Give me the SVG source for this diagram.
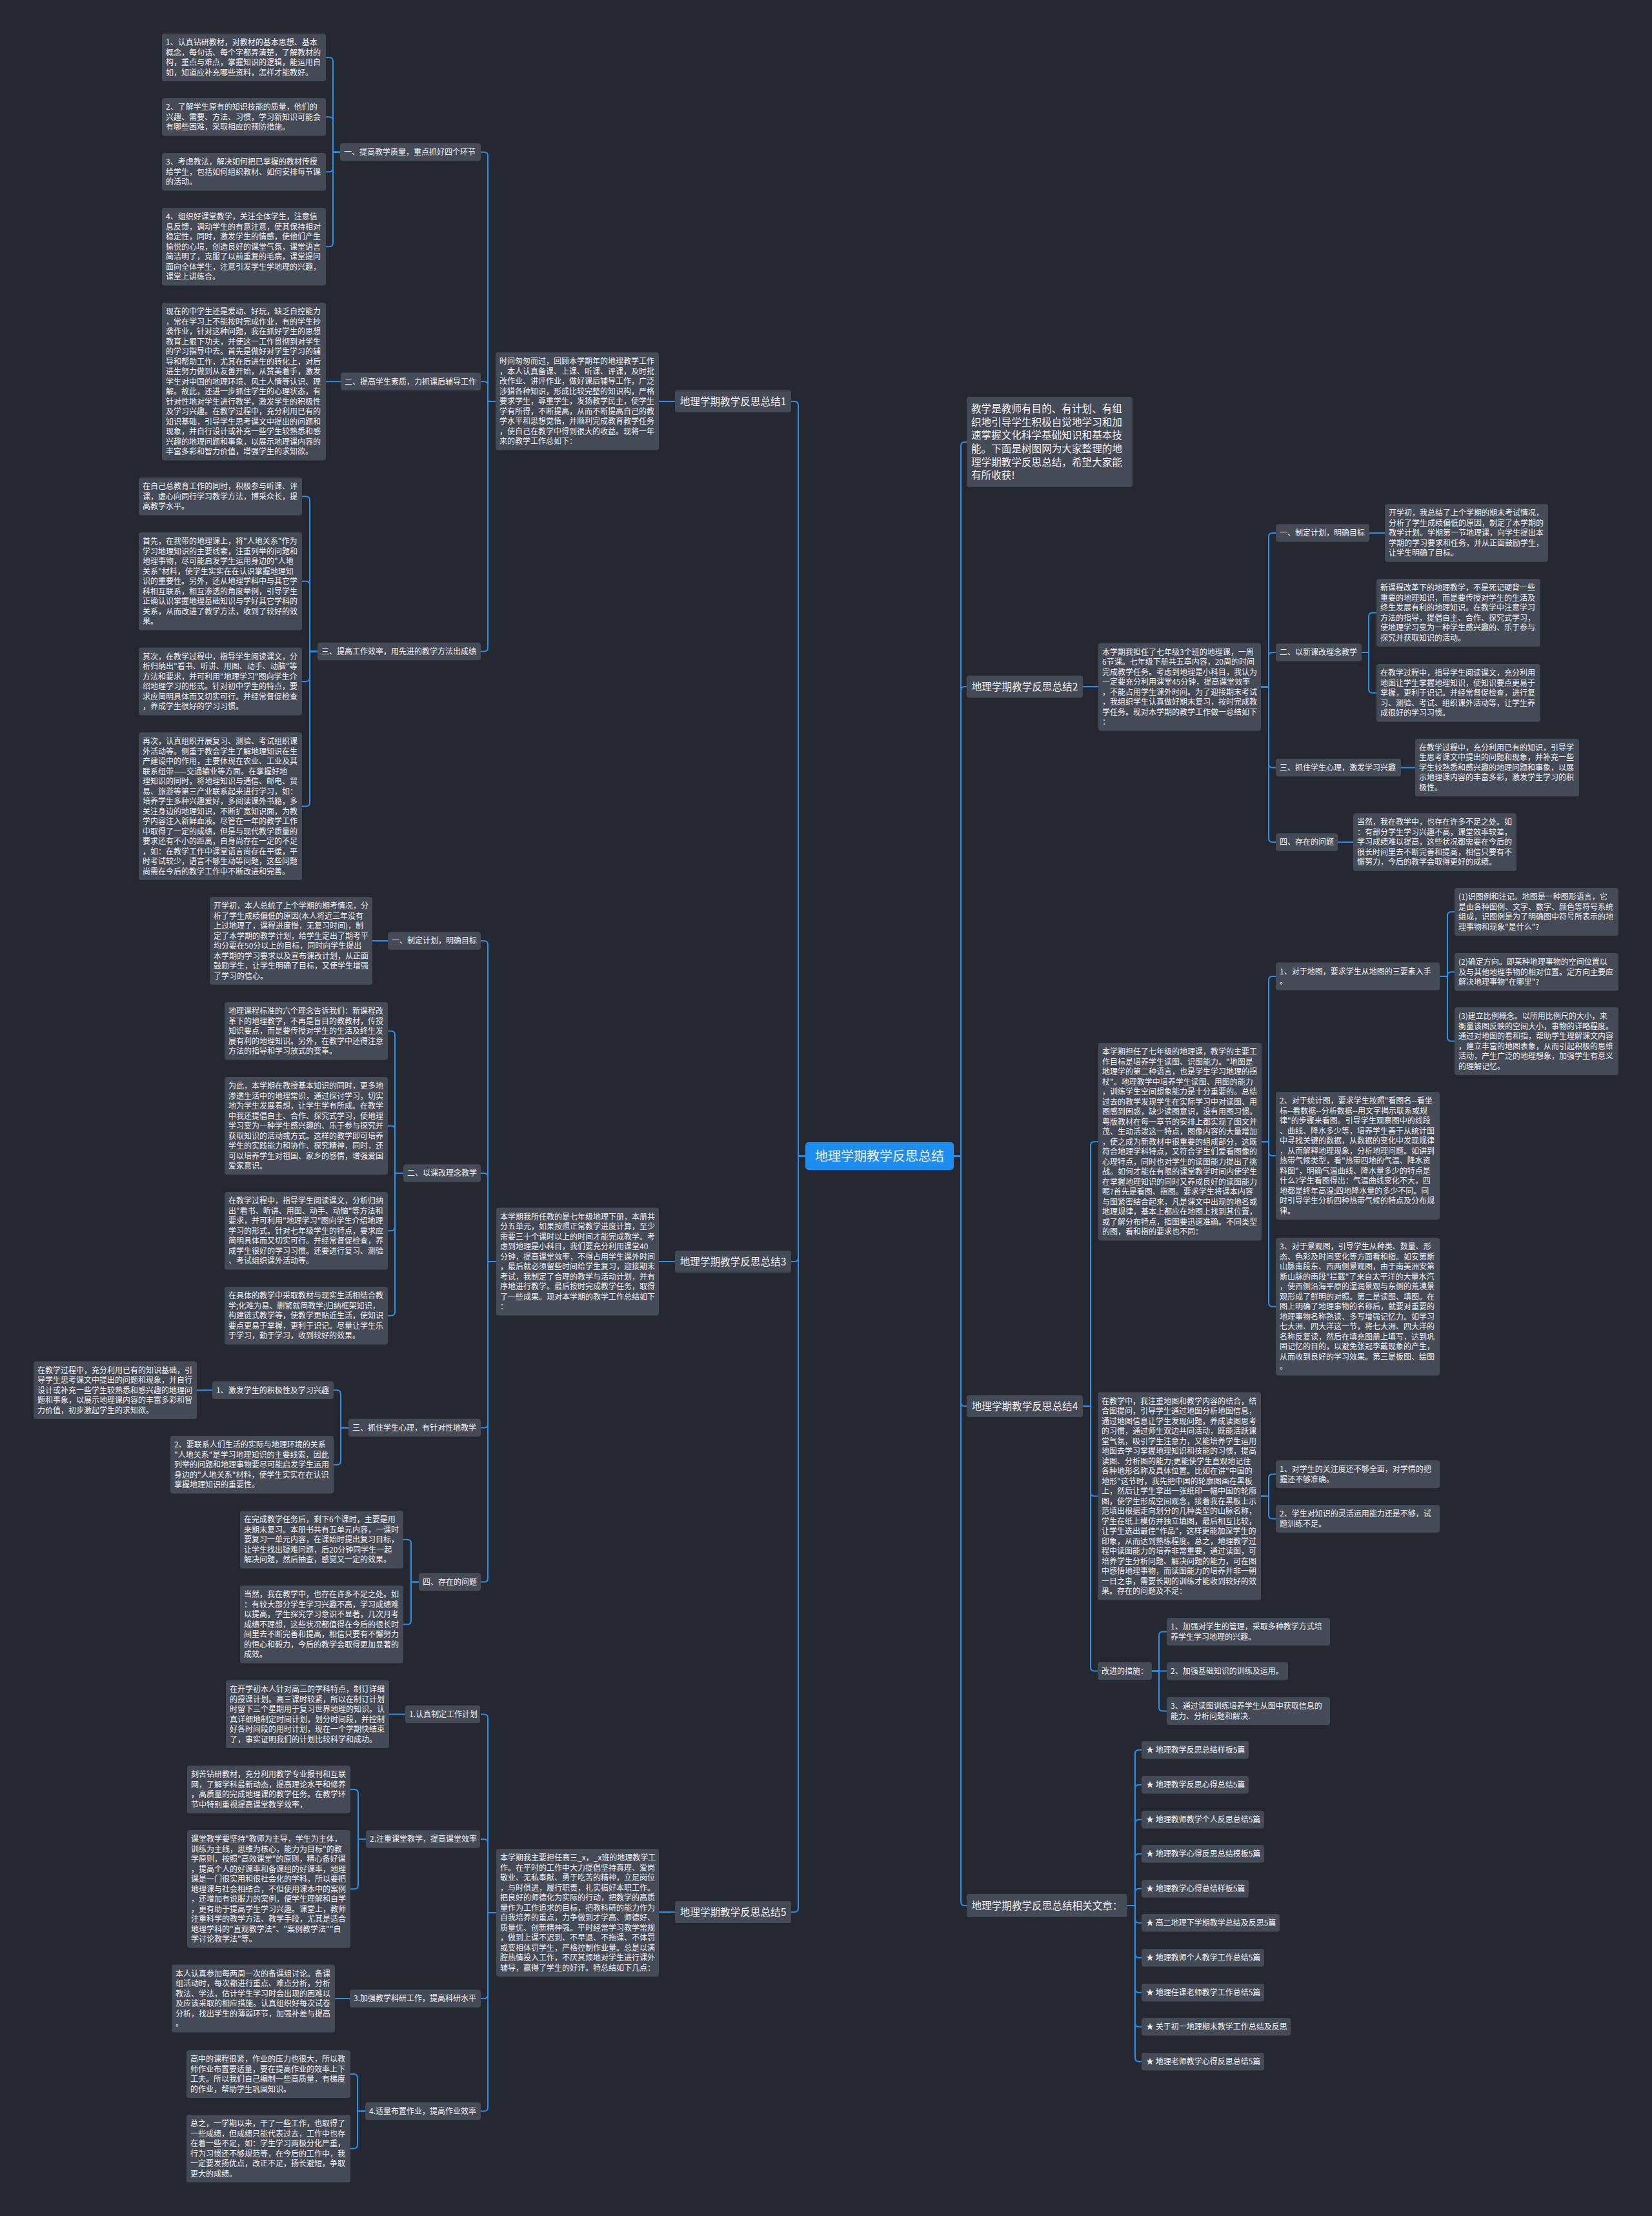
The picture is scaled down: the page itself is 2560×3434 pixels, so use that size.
<svg xmlns="http://www.w3.org/2000/svg" width="2560" height="3434" viewBox="0 0 2560 3434">
<style>
.n rect{fill:#454a57}
text{font-family:"Noto Sans CJK SC","Noto Sans",sans-serif;fill:#f2f2f2;font-size:12px}
.m text{font-size:15.6px}
.c path{fill:none;stroke:#2a8fe8;stroke-width:2}
</style>
<rect width="2560" height="3434" fill="#252830"/>
<g class="c">
<path d="M1248 1791.5H1237V628Q1237 622 1231 622H1226"/>
<path d="M1248 1791.5H1237V1949Q1237 1955 1231 1955H1226"/>
<path d="M1248 1791.5H1237V2957Q1237 2963 1231 2963H1226"/>
<path d="M1478 1791.5H1489V691Q1489 685 1495 685H1498"/>
<path d="M1478 1791.5H1489V1070Q1489 1064 1495 1064H1498"/>
<path d="M1478 1791.5H1489V2173Q1489 2179 1495 2179H1498"/>
<path d="M1478 1791.5H1489V2947Q1489 2953 1495 2953H1498"/>
<path d="M1046 622H1021"/>
<path d="M1046 1955H1021"/>
<path d="M1046 2963H1021"/>
<path d="M1678 1064H1702"/>
<path d="M768 622H756V241.75Q756 235.75 750 235.75H745"/>
<path d="M768 622H756V597.25Q756 591.25 750 591.25H745"/>
<path d="M768 622H756V1003.5Q756 1009.5 750 1009.5H745"/>
<path d="M527 235.75H516V95Q516 89 510 89H505"/>
<path d="M527 235.75H516V187.25Q516 181.25 510 181.25H505"/>
<path d="M527 235.75H516V260.25Q516 266.25 510 266.25H505"/>
<path d="M527 235.75H516V376.25Q516 382.25 510 382.25H505"/>
<path d="M528 591.25H505"/>
<path d="M492 1009.5H480V775.25Q480 769.25 474 769.25H468"/>
<path d="M492 1009.5H480V906.75Q480 900.75 474 900.75H468"/>
<path d="M492 1009.5H480V1050Q480 1056 474 1056H468"/>
<path d="M492 1009.5H480V1243.5Q480 1249.5 474 1249.5H468"/>
<path d="M769 1955H756V1464Q756 1458 750 1458H745"/>
<path d="M769 1955H756V1824Q756 1818 750 1818H745"/>
<path d="M769 1955H756V2206.5Q756 2212.5 750 2212.5H745"/>
<path d="M769 1955H756V2445.5Q756 2451.5 750 2451.5H745"/>
<path d="M601 1458H577"/>
<path d="M625 1818H612V1603.75Q612 1597.75 606 1597.75H601"/>
<path d="M625 1818H612V1750.75Q612 1744.75 606 1744.75H601"/>
<path d="M625 1818H612V1901.25Q612 1907.25 606 1907.25H601"/>
<path d="M625 1818H612V2032.75Q612 2038.75 606 2038.75H601"/>
<path d="M540 2212.5H528V2160.25Q528 2154.25 522 2154.25H517"/>
<path d="M540 2212.5H528V2263.75Q528 2269.75 522 2269.75H517"/>
<path d="M329 2154.25H305"/>
<path d="M649 2451.5H637V2391.75Q637 2385.75 631 2385.75H625"/>
<path d="M649 2451.5H637V2511.25Q637 2517.25 631 2517.25H625"/>
<path d="M769 2964H756V2662.5Q756 2656.5 750 2656.5H745"/>
<path d="M769 2964H756V2856Q756 2850 750 2850H745"/>
<path d="M769 2964H756V3091Q756 3097 750 3097H745"/>
<path d="M769 2964H756V3265.5Q756 3271.5 750 3271.5H745"/>
<path d="M628 2656.5H603"/>
<path d="M567 2850H555V2779Q555 2773 549 2773H543"/>
<path d="M567 2850H555V2921.25Q555 2927.25 549 2927.25H543"/>
<path d="M542 3097H519"/>
<path d="M566 3271.5H554V3220Q554 3214 548 3214H543"/>
<path d="M566 3271.5H554V3323.5Q554 3329.5 548 3329.5H543"/>
<path d="M1954 1064.5H1966V832Q1966 826 1972 826H1977"/>
<path d="M1954 1064.5H1966V1017Q1966 1011 1972 1011H1977"/>
<path d="M1954 1064.5H1966V1183.5Q1966 1189.5 1972 1189.5H1977"/>
<path d="M1954 1064.5H1966V1299Q1966 1305 1972 1305H1977"/>
<path d="M2122 826H2146"/>
<path d="M2110 1011H2121V955.5Q2121 949.5 2127 949.5H2133"/>
<path d="M2110 1011H2121V1067.75Q2121 1073.75 2127 1073.75H2133"/>
<path d="M2171 1189.5H2193"/>
<path d="M2073 1305H2097"/>
<path d="M1678 2179H1690V1775.25Q1690 1769.25 1696 1769.25H1702"/>
<path d="M1678 2179H1690V2312.5Q1690 2318.5 1696 2318.5H1701"/>
<path d="M1678 2179H1690V2583.5Q1690 2589.5 1696 2589.5H1701"/>
<path d="M1955 1769.25H1966V1519Q1966 1513 1972 1513H1977"/>
<path d="M1955 1769.25H1966V1785Q1966 1791 1972 1791H1977"/>
<path d="M1955 1769.25H1966V2018.75Q1966 2024.75 1972 2024.75H1977"/>
<path d="M2231 1513H2243V1419Q2243 1413 2249 1413H2254"/>
<path d="M2231 1513H2243V1512.25Q2243 1506.25 2249 1506.25H2254"/>
<path d="M2231 1513H2243V1607.5Q2243 1613.5 2249 1613.5H2254"/>
<path d="M1954 2318.5H1966V2290.5Q1966 2284.5 1972 2284.5H1977"/>
<path d="M1954 2318.5H1966V2347.5Q1966 2353.5 1972 2353.5H1977"/>
<path d="M1785 2589.5H1796V2534.5Q1796 2528.5 1802 2528.5H1808"/>
<path d="M1785 2589.5H1808"/>
<path d="M1785 2589.5H1796V2645.5Q1796 2651.5 1802 2651.5H1808"/>
<path d="M1747 2953H1759V2717.75Q1759 2711.75 1765 2711.75H1769"/>
<path d="M1747 2953H1759V2771.75Q1759 2765.75 1765 2765.75H1769"/>
<path d="M1747 2953H1759V2825.75Q1759 2819.75 1765 2819.75H1769"/>
<path d="M1747 2953H1759V2878.75Q1759 2872.75 1765 2872.75H1769"/>
<path d="M1747 2953H1759V2932.75Q1759 2926.75 1765 2926.75H1769"/>
<path d="M1747 2953H1759V2973.75Q1759 2979.75 1765 2979.75H1769"/>
<path d="M1747 2953H1759V3027.75Q1759 3033.75 1765 3033.75H1769"/>
<path d="M1747 2953H1759V3081.75Q1759 3087.75 1765 3087.75H1769"/>
<path d="M1747 2953H1759V3134.75Q1759 3140.75 1765 3140.75H1769"/>
<path d="M1747 2953H1759V3188.75Q1759 3194.75 1765 3194.75H1769"/>
</g>

<g id="root"><rect x="1248" y="1770" width="230" height="43" rx="5" fill="#1f8df0"/><text x="1363" y="1798.5" text-anchor="middle" style="font-size:20px" fill="#ffffff">地理学期教学反思总结</text></g>

<g class="n m">
<g id="s1"><rect x="1046" y="605" width="180" height="34" rx="4"/><text x="1136" y="627.6" text-anchor="middle">地理学期教学反思总结1</text></g>
<g id="s3"><rect x="1046" y="1938" width="180" height="34" rx="4"/><text x="1136" y="1960.6" text-anchor="middle">地理学期教学反思总结3</text></g>
<g id="s5"><rect x="1046" y="2946" width="180" height="34" rx="4"/><text x="1136" y="2968.6" text-anchor="middle">地理学期教学反思总结5</text></g>
<g id="s2"><rect x="1498" y="1047" width="180" height="34" rx="4"/><text x="1588" y="1069.6" text-anchor="middle">地理学期教学反思总结2</text></g>
<g id="s4"><rect x="1498" y="2162" width="180" height="34" rx="4"/><text x="1588" y="2184.6" text-anchor="middle">地理学期教学反思总结4</text></g>
<g id="rel"><rect x="1498" y="2935" width="249" height="36" rx="4"/><text x="1622.5" y="2958.6" text-anchor="middle">地理学期教学反思总结相关文章：</text></g>
<g id="intro"><rect x="1498" y="615" width="257" height="140" rx="4"/><text x="1505" y="639.1"><tspan x="1505">教学是教师有目的、有计划、有组</tspan><tspan x="1505" dy="20.6">织地引导学生积极自觉地学习和加</tspan><tspan x="1505" dy="20.6">速掌握文化科学基础知识和基本技</tspan><tspan x="1505" dy="20.6">能。下面是树图网为大家整理的地</tspan><tspan x="1505" dy="20.6">理学期教学反思总结，希望大家能</tspan><tspan x="1505" dy="20.6">有所收获!</tspan></text></g>
</g>

<g class="n">
<g id="p1"><rect x="768" y="546" width="253" height="151.5" rx="4"/><text x="774" y="564"><tspan x="774">时间匆匆而过，回顾本学期年的地理教学工作</tspan><tspan x="774" dy="15.5">，本人认真备课、上课、听课、评课，及时批</tspan><tspan x="774" dy="15.5">改作业、讲评作业，做好课后辅导工作，广泛</tspan><tspan x="774" dy="15.5">涉猎各种知识，形成比较完整的知识构，严格</tspan><tspan x="774" dy="15.5">要求学生，尊重学生，发扬教学民主，使学生</tspan><tspan x="774" dy="15.5">学有所得，不断提高，从而不断提高自己的教</tspan><tspan x="774" dy="15.5">学水平和思想觉悟，并顺利完成教育教学任务</tspan><tspan x="774" dy="15.5">，使自己在教学中得到很大的收益。现将一年</tspan><tspan x="774" dy="15.5">来的教学工作总如下：</tspan></text></g>
<g id="l11"><rect x="527" y="222" width="218" height="27.5" rx="4"/><text x="533" y="240">一、提高教学质量，重点抓好四个环节</text></g>
<g id="f111"><rect x="251" y="52" width="254" height="74" rx="4"/><text x="257" y="70"><tspan x="257">1、认真钻研教材，对教材的基本思想、基本</tspan><tspan x="257" dy="15.5">概念，每句话、每个字都弄清楚，了解教材的</tspan><tspan x="257" dy="15.5">构，重点与难点，掌握知识的逻辑，能运用自</tspan><tspan x="257" dy="15.5">如，知道应补充哪些资料，怎样才能教好。</tspan></text></g>
<g id="f112"><rect x="251" y="152" width="254" height="58.5" rx="4"/><text x="257" y="170"><tspan x="257">2、了解学生原有的知识技能的质量，他们的</tspan><tspan x="257" dy="15.5">兴趣、需要、方法、习惯，学习新知识可能会</tspan><tspan x="257" dy="15.5">有哪些困难，采取相应的预防措施。</tspan></text></g>
<g id="f113"><rect x="251" y="237" width="254" height="58.5" rx="4"/><text x="257" y="255"><tspan x="257">3、考虑教法，解决如何把已掌握的教材传授</tspan><tspan x="257" dy="15.5">给学生，包括如何组织教材、如何安排每节课</tspan><tspan x="257" dy="15.5">的活动。</tspan></text></g>
<g id="f114"><rect x="251" y="322" width="254" height="120.5" rx="4"/><text x="257" y="340"><tspan x="257">4、组织好课堂教学，关注全体学生，注意信</tspan><tspan x="257" dy="15.5">息反馈，调动学生的有意注意，使其保持相对</tspan><tspan x="257" dy="15.5">稳定性，同时，激发学生的情感，使他们产生</tspan><tspan x="257" dy="15.5">愉悦的心境，创造良好的课堂气氛，课堂语言</tspan><tspan x="257" dy="15.5">简洁明了，克服了以前重复的毛病，课堂提问</tspan><tspan x="257" dy="15.5">面向全体学生，注意引发学生学地理的兴趣，</tspan><tspan x="257" dy="15.5">课堂上讲练合。</tspan></text></g>
<g id="l12"><rect x="528" y="577.5" width="217" height="27.5" rx="4"/><text x="534" y="595.5">二、提高学生素质，力抓课后辅导工作</text></g>
<g id="f12"><rect x="251" y="469" width="254" height="244.5" rx="4"/><text x="257" y="487"><tspan x="257">现在的中学生还是爱动、好玩，缺乏自控能力</tspan><tspan x="257" dy="15.5">，常在学习上不能按时完成作业，有的学生抄</tspan><tspan x="257" dy="15.5">袭作业，针对这种问题，我在抓好学生的思想</tspan><tspan x="257" dy="15.5">教育上狠下功夫，并使这一工作贯彻到对学生</tspan><tspan x="257" dy="15.5">的学习指导中去。首先是做好对学生学习的辅</tspan><tspan x="257" dy="15.5">导和帮助工作，尤其在后进生的转化上，对后</tspan><tspan x="257" dy="15.5">进生努力做到从友善开始，从赞美着手，激发</tspan><tspan x="257" dy="15.5">学生对中国的地理环境、风土人情等认识、理</tspan><tspan x="257" dy="15.5">解。故此，还进一步抓住学生的心理状态，有</tspan><tspan x="257" dy="15.5">针对性地对学生进行教学，激发学生的积极性</tspan><tspan x="257" dy="15.5">及学习兴趣。在教学过程中，充分利用已有的</tspan><tspan x="257" dy="15.5">知识基础，引导学生思考课文中提出的问题和</tspan><tspan x="257" dy="15.5">现象，并自行设计或补充一些学生较熟悉和感</tspan><tspan x="257" dy="15.5">兴趣的地理问题和事象，以展示地理课内容的</tspan><tspan x="257" dy="15.5">丰富多彩和智力价值，增强学生的求知欲。</tspan></text></g>
<g id="l13"><rect x="492" y="995.75" width="253" height="27.5" rx="4"/><text x="498" y="1013.75">三、提高工作效率，用先进的教学方法出成绩</text></g>
<g id="f131"><rect x="215" y="740" width="253" height="58.5" rx="4"/><text x="221" y="758"><tspan x="221">在自己总教育工作的同时，积极参与听课、评</tspan><tspan x="221" dy="15.5">课，虚心向同行学习教学方法，博采众长，提</tspan><tspan x="221" dy="15.5">高教学水平。</tspan></text></g>
<g id="f132"><rect x="215" y="825" width="253" height="151.5" rx="4"/><text x="221" y="843"><tspan x="221">首先，在我带的地理课上，将"人地关系"作为</tspan><tspan x="221" dy="15.5">学习地理知识的主要线索，注重列举的问题和</tspan><tspan x="221" dy="15.5">地理事物，尽可能启发学生运用身边的"人地</tspan><tspan x="221" dy="15.5">关系"材料，使学生实实在在认识掌握地理知</tspan><tspan x="221" dy="15.5">识的重要性。另外，还从地理学科中与其它学</tspan><tspan x="221" dy="15.5">科相互联系，相互渗透的角度举例，引导学生</tspan><tspan x="221" dy="15.5">正确认识掌握地理基础知识与学好其它学科的</tspan><tspan x="221" dy="15.5">关系，从而改进了教学方法，收到了较好的效</tspan><tspan x="221" dy="15.5">果。</tspan></text></g>
<g id="f133"><rect x="215" y="1003.5" width="253" height="105" rx="4"/><text x="221" y="1021.5"><tspan x="221">其次，在教学过程中，指导学生阅读课文，分</tspan><tspan x="221" dy="15.5">析归纳出"看书、听讲、用图、动手、动脑"等</tspan><tspan x="221" dy="15.5">方法和要求，并可利用"地理学习"图向学生介</tspan><tspan x="221" dy="15.5">绍地理学习的形式。针对初中学生的特点，要</tspan><tspan x="221" dy="15.5">求应简明具体而又切实可行。并经常督促检查</tspan><tspan x="221" dy="15.5">，养成学生很好的学习习惯。</tspan></text></g>
<g id="f134"><rect x="215" y="1135" width="253" height="229" rx="4"/><text x="221" y="1153"><tspan x="221">再次，认真组织开展复习、测验、考试组织课</tspan><tspan x="221" dy="15.5">外活动等。侧重于教会学生了解地理知识在生</tspan><tspan x="221" dy="15.5">产建设中的作用，主要体现在农业、工业及其</tspan><tspan x="221" dy="15.5">联系纽带——交通输业等方面。在掌握好地</tspan><tspan x="221" dy="15.5">理知识的同时，将地理知识与通信、邮电、贸</tspan><tspan x="221" dy="15.5">易、旅游等第三产业联系起来进行学习，如：</tspan><tspan x="221" dy="15.5">培养学生多种兴趣爱好，多阅读课外书籍，多</tspan><tspan x="221" dy="15.5">关注身边的地理知识，不断扩宽知识面，为教</tspan><tspan x="221" dy="15.5">学内容注入新鲜血液。尽管在一年的教学工作</tspan><tspan x="221" dy="15.5">中取得了一定的成绩，但是与现代教学质量的</tspan><tspan x="221" dy="15.5">要求还有不小的距离，自身尚存在一定的不足</tspan><tspan x="221" dy="15.5">，如：在教学工作中课堂语言尚存在平缓，平</tspan><tspan x="221" dy="15.5">时考试较少，语言不够生动等问题，这些问题</tspan><tspan x="221" dy="15.5">尚需在今后的教学工作中不断改进和完善。</tspan></text></g>

<g id="p3"><rect x="769" y="1871.5" width="252" height="167" rx="4"/><text x="775" y="1889.5"><tspan x="775">本学期我所任教的是七年级地理下册，本册共</tspan><tspan x="775" dy="15.5">分五单元，如果按照正常教学进度计算，至少</tspan><tspan x="775" dy="15.5">需要三十个课时以上的时间才能完成教学。考</tspan><tspan x="775" dy="15.5">虑到地理是小科目，我们要充分利用课堂40</tspan><tspan x="775" dy="15.5">分钟，提高课堂效率，不得占用学生课外时间</tspan><tspan x="775" dy="15.5">，最后就必须留些时间给学生复习，迎接期末</tspan><tspan x="775" dy="15.5">考试，我制定了合理的教学与活动计划，并有</tspan><tspan x="775" dy="15.5">序地进行教学。最后按时完成教学任务，取得</tspan><tspan x="775" dy="15.5">了一些成果。现对本学期的教学工作总结如下</tspan><tspan x="775" dy="15.5">：</tspan></text></g>
<g id="l31"><rect x="601" y="1444.25" width="144" height="27.5" rx="4"/><text x="607" y="1462.25">一、制定计划，明确目标</text></g>
<g id="f31"><rect x="325" y="1390" width="252" height="136" rx="4"/><text x="331" y="1408"><tspan x="331">开学初，本人总统了上个学期的期考情况，分</tspan><tspan x="331" dy="15.5">析了学生成绩偏低的原因(本人将近三年没有</tspan><tspan x="331" dy="15.5">上过地理了，课程进度慢，无复习时间)，制</tspan><tspan x="331" dy="15.5">定了本学期的教学计划，给学生定出了期考平</tspan><tspan x="331" dy="15.5">均分要在50分以上的目标，同时向学生提出</tspan><tspan x="331" dy="15.5">本学期的学习要求以及宣布课改计划，从正面</tspan><tspan x="331" dy="15.5">鼓励学生，让学生明确了目标，又使学生增强</tspan><tspan x="331" dy="15.5">了学习的信心。</tspan></text></g>
<g id="l32"><rect x="625" y="1804.25" width="120" height="27.5" rx="4"/><text x="631" y="1822.25">二、以课改理念教学</text></g>
<g id="f321"><rect x="348" y="1553" width="253" height="89.5" rx="4"/><text x="354" y="1571"><tspan x="354">地理课程标准的六个理念告诉我们：新课程改</tspan><tspan x="354" dy="15.5">革下的地理教学，不再是盲目的教教材，传授</tspan><tspan x="354" dy="15.5">知识要点，而是要传授对学生的生活及终生发</tspan><tspan x="354" dy="15.5">展有利的地理知识。另外，在教学中还得注意</tspan><tspan x="354" dy="15.5">方法的指导和学习放式的变革。</tspan></text></g>
<g id="f322"><rect x="348" y="1669" width="253" height="151.5" rx="4"/><text x="354" y="1687"><tspan x="354">为此，本学期在教授基本知识的同时，更多地</tspan><tspan x="354" dy="15.5">渗透生活中的地理常识，通过探讨学习，切实</tspan><tspan x="354" dy="15.5">地为学生发展着想，让学生学有所成。在教学</tspan><tspan x="354" dy="15.5">中我还提倡自主、合作、探究式学习，使地理</tspan><tspan x="354" dy="15.5">学习变为一种学生感兴趣的、乐于参与探究并</tspan><tspan x="354" dy="15.5">获取知识的活动或方式。这样的教学即可培养</tspan><tspan x="354" dy="15.5">学生的实践能力和协作、探究精神，同时，还</tspan><tspan x="354" dy="15.5">可以培养学生对祖国、家乡的感情，增强爱国</tspan><tspan x="354" dy="15.5">爱家意识。</tspan></text></g>
<g id="f323"><rect x="348" y="1847" width="253" height="120.5" rx="4"/><text x="354" y="1865"><tspan x="354">在教学过程中，指导学生阅读课文，分析归纳</tspan><tspan x="354" dy="15.5">出"看书、听讲、用图、动手、动脑"等方法和</tspan><tspan x="354" dy="15.5">要求，并可利用"地理学习"图向学生介绍地理</tspan><tspan x="354" dy="15.5">学习的形式。针对七年级学生的特点，要求应</tspan><tspan x="354" dy="15.5">简明具体而又切实可行。并经常督促检查，养</tspan><tspan x="354" dy="15.5">成学生很好的学习习惯。还要进行复习、测验</tspan><tspan x="354" dy="15.5">、考试组织课外活动等。</tspan></text></g>
<g id="f324"><rect x="348" y="1994" width="253" height="89.5" rx="4"/><text x="354" y="2012"><tspan x="354">在具体的教学中采取教材与现实生活相结合教</tspan><tspan x="354" dy="15.5">学;化难为易、删繁就简教学;归纳框架知识，</tspan><tspan x="354" dy="15.5">构建链式教学等，使教学更贴近生活，使知识</tspan><tspan x="354" dy="15.5">要点更易于掌握，更利于识记。尽量让学生乐</tspan><tspan x="354" dy="15.5">于学习，勤于学习，收到较好的效果。</tspan></text></g>
<g id="l33"><rect x="540" y="2198.75" width="205" height="27.5" rx="4"/><text x="546" y="2216.75">三、抓住学生心理，有针对性地教学</text></g>
<g id="l331"><rect x="329" y="2140.5" width="188" height="27.5" rx="4"/><text x="335" y="2158.5">1、激发学生的积极性及学习兴趣</text></g>
<g id="f331"><rect x="52" y="2109.5" width="253" height="89.5" rx="4"/><text x="58" y="2127.5"><tspan x="58">在教学过程中，充分利用已有的知识基础，引</tspan><tspan x="58" dy="15.5">导学生思考课文中提出的问题和现象，并自行</tspan><tspan x="58" dy="15.5">设计或补充一些学生较熟悉和感兴趣的地理问</tspan><tspan x="58" dy="15.5">题和事象，以展示地理课内容的丰富多彩和智</tspan><tspan x="58" dy="15.5">力价值，初步激起学生的求知欲。</tspan></text></g>
<g id="f332"><rect x="264" y="2225" width="253" height="89.5" rx="4"/><text x="270" y="2243"><tspan x="270">2、要联系人们生活的实际与地理环境的关系</tspan><tspan x="270" dy="15.5">"人地关系"是学习地理知识的主要线索，因此</tspan><tspan x="270" dy="15.5">列举的问题和地理事物要尽可能启发学生运用</tspan><tspan x="270" dy="15.5">身边的"人地关系"材料，使学生实实在在认识</tspan><tspan x="270" dy="15.5">掌握地理知识的重要性。</tspan></text></g>
<g id="l34"><rect x="649" y="2437.75" width="96" height="27.5" rx="4"/><text x="655" y="2455.75">四、存在的问题</text></g>
<g id="f341"><rect x="372" y="2341" width="253" height="89.5" rx="4"/><text x="378" y="2359"><tspan x="378">在完成教学任务后，剩下6个课时，主要是用</tspan><tspan x="378" dy="15.5">来期末复习。本册书共有五单元内容，一课时</tspan><tspan x="378" dy="15.5">要复习一单元内容，在课始时提出复习目标，</tspan><tspan x="378" dy="15.5">让学生找出疑难问题，后20分钟同学生一起</tspan><tspan x="378" dy="15.5">解决问题，然后抽查，感觉又一定的效果。</tspan></text></g>
<g id="f342"><rect x="372" y="2457" width="253" height="120.5" rx="4"/><text x="378" y="2475"><tspan x="378">当然，我在教学中，也存在许多不足之处。如</tspan><tspan x="378" dy="15.5">：有较大部分学生学习兴趣不高，学习成绩难</tspan><tspan x="378" dy="15.5">以提高，学生探究学习意识不显著，几次月考</tspan><tspan x="378" dy="15.5">成绩不理想，这些状况都值得在今后的很长时</tspan><tspan x="378" dy="15.5">间里去不断完善和提高，相信只要有不懈努力</tspan><tspan x="378" dy="15.5">的恒心和毅力，今后的教学会取得更加显著的</tspan><tspan x="378" dy="15.5">成效。</tspan></text></g>

<g id="p5"><rect x="769" y="2865" width="252" height="198" rx="4"/><text x="775" y="2883"><tspan x="775">本学期我主要担任高三_x，_x班的地理教学工</tspan><tspan x="775" dy="15.5">作。在平时的工作中大力提倡坚持真理、爱岗</tspan><tspan x="775" dy="15.5">敬业、无私奉献、勇于吃苦的精神，立足岗位</tspan><tspan x="775" dy="15.5">，与时俱进，履行职责，扎实搞好本职工作。</tspan><tspan x="775" dy="15.5">把良好的师德化为实际的行动，把教学的高质</tspan><tspan x="775" dy="15.5">量作为工作追求的目标，把教科研的能力作为</tspan><tspan x="775" dy="15.5">自我培养的重点，力争做到才学高、师德好、</tspan><tspan x="775" dy="15.5">质量优、创新精神强。平时经常学习教学常规</tspan><tspan x="775" dy="15.5">，做到上课不迟到、不早退、不拖课、不体罚</tspan><tspan x="775" dy="15.5">或变相体罚学生，严格控制作业量。总是以满</tspan><tspan x="775" dy="15.5">腔热情投入工作，不厌其烦地对学生进行课外</tspan><tspan x="775" dy="15.5">辅导，赢得了学生的好评。特总结如下几点：</tspan></text></g>
<g id="l51"><rect x="628" y="2642.75" width="116" height="27.5" rx="4"/><text x="634" y="2660.75">1.认真制定工作计划</text></g>
<g id="f51"><rect x="350" y="2604" width="253" height="105" rx="4"/><text x="356" y="2622"><tspan x="356">在开学初本人针对高三的学科特点，制订详细</tspan><tspan x="356" dy="15.5">的授课计划。高三课时较紧，所以在制订计划</tspan><tspan x="356" dy="15.5">时留下三个星期用于复习世界地理的知识。认</tspan><tspan x="356" dy="15.5">真详细地制定时间计划，划分时间段，并控制</tspan><tspan x="356" dy="15.5">好各时间段的用时计划，现在一个学期快结束</tspan><tspan x="356" dy="15.5">了，事实证明我们的计划比较科学和成功。</tspan></text></g>
<g id="l52"><rect x="567" y="2836.25" width="177" height="27.5" rx="4"/><text x="573" y="2854.25">2.注重课堂教学，提高课堂效率</text></g>
<g id="f521"><rect x="290" y="2736" width="253" height="74" rx="4"/><text x="296" y="2754"><tspan x="296">刻苦钻研教材，充分利用教学专业报刊和互联</tspan><tspan x="296" dy="15.5">网，了解学科最新动态，提高理论水平和修养</tspan><tspan x="296" dy="15.5">，高质量的完成地理课的教学任务。在教学环</tspan><tspan x="296" dy="15.5">节中特别重视提高课堂教学效率，</tspan></text></g>
<g id="f522"><rect x="290" y="2836" width="253" height="182.5" rx="4"/><text x="296" y="2854"><tspan x="296">课堂教学要坚持"教师为主导，学生为主体，</tspan><tspan x="296" dy="15.5">训练为主线，思维为核心，能力为目标"的教</tspan><tspan x="296" dy="15.5">学原则，按照"高效课堂"的原则，精心备好课</tspan><tspan x="296" dy="15.5">，提高个人的好课率和备课组的好课率，地理</tspan><tspan x="296" dy="15.5">课是一门很实用和很社会化的学科，所以要把</tspan><tspan x="296" dy="15.5">地理课与社会相结合，不但使用课本中的案例</tspan><tspan x="296" dy="15.5">，还增加有说服力的案例，便学生理解和自学</tspan><tspan x="296" dy="15.5">，更有助于提高学生学习兴趣。课堂上，教师</tspan><tspan x="296" dy="15.5">注重科学的教学方法、教学手段，尤其是适合</tspan><tspan x="296" dy="15.5">地理学科的"直观教学法"、"案例教学法""自</tspan><tspan x="296" dy="15.5">学讨论教学法"等。</tspan></text></g>
<g id="l53"><rect x="542" y="3083.25" width="203" height="27.5" rx="4"/><text x="548" y="3101.25">3.加强教学科研工作，提高科研水平</text></g>
<g id="f53"><rect x="266" y="3044.5" width="253" height="105" rx="4"/><text x="272" y="3062.5"><tspan x="272">本人认真参加每两周一次的备课组讨论。备课</tspan><tspan x="272" dy="15.5">组活动时，每次都进行重点、难点分析，分析</tspan><tspan x="272" dy="15.5">教法、学法，估计学生学习时会出现的困难以</tspan><tspan x="272" dy="15.5">及应该采取的相应措施。认真组织好每次试卷</tspan><tspan x="272" dy="15.5">分析，找出学生的薄弱环节，加强补差与提高</tspan><tspan x="272" dy="15.5">。</tspan></text></g>
<g id="l54"><rect x="566" y="3257.75" width="179" height="27.5" rx="4"/><text x="572" y="3275.75">4.适量布置作业，提高作业效率</text></g>
<g id="f541"><rect x="289" y="3177" width="254" height="74" rx="4"/><text x="295" y="3195"><tspan x="295">高中的课程很紧，作业的压力也很大，所以教</tspan><tspan x="295" dy="15.5">师作业布置要适量，要在提高作业的效率上下</tspan><tspan x="295" dy="15.5">工夫。所以我们自己编制一些高质量，有梯度</tspan><tspan x="295" dy="15.5">的作业，帮助学生巩固知识。</tspan></text></g>
<g id="f542"><rect x="289" y="3277" width="254" height="105" rx="4"/><text x="295" y="3295"><tspan x="295">总之，一学期以来，干了一些工作，也取得了</tspan><tspan x="295" dy="15.5">一些成绩，但成绩只能代表过去，工作中也存</tspan><tspan x="295" dy="15.5">在着一些不足，如：学生学习两极分化严重，</tspan><tspan x="295" dy="15.5">行为习惯还不够规范等，在今后的工作中，我</tspan><tspan x="295" dy="15.5">一定要发扬优点，改正不足，扬长避短，争取</tspan><tspan x="295" dy="15.5">更大的成绩。</tspan></text></g>

<g id="p2"><rect x="1702" y="996.5" width="252" height="136" rx="4"/><text x="1708" y="1014.5"><tspan x="1708">本学期我担任了七年级3个班的地理课，一周</tspan><tspan x="1708" dy="15.5">6节课。七年级下册共五章内容，20周的时间</tspan><tspan x="1708" dy="15.5">完成教学任务。考虑到地理是小科目，我认为</tspan><tspan x="1708" dy="15.5">一定要充分利用课堂45分钟，提高课堂效率</tspan><tspan x="1708" dy="15.5">，不能占用学生课外时间。为了迎接期末考试</tspan><tspan x="1708" dy="15.5">，我组织学生认真做好期末复习，按时完成教</tspan><tspan x="1708" dy="15.5">学任务。现对本学期的教学工作做一总结如下</tspan><tspan x="1708" dy="15.5">：</tspan></text></g>
<g id="l21"><rect x="1977" y="812.25" width="145" height="27.5" rx="4"/><text x="1983" y="830.25">一、制定计划，明确目标</text></g>
<g id="f21"><rect x="2146" y="781.25" width="253" height="89.5" rx="4"/><text x="2152" y="799.25"><tspan x="2152">开学初，我总结了上个学期的期末考试情况，</tspan><tspan x="2152" dy="15.5">分析了学生成绩偏低的原因，制定了本学期的</tspan><tspan x="2152" dy="15.5">教学计划。学期第一节地理课，向学生提出本</tspan><tspan x="2152" dy="15.5">学期的学习要求和任务，并从正面鼓励学生，</tspan><tspan x="2152" dy="15.5">让学生明确了目标。</tspan></text></g>
<g id="l22"><rect x="1977" y="997.25" width="133" height="27.5" rx="4"/><text x="1983" y="1015.25">二、以新课改理念教学</text></g>
<g id="f221"><rect x="2133" y="897" width="254" height="105" rx="4"/><text x="2139" y="915"><tspan x="2139">新课程改革下的地理教学，不是死记硬背一些</tspan><tspan x="2139" dy="15.5">重要的地理知识，而是要传授对学生的生活及</tspan><tspan x="2139" dy="15.5">终生发展有利的地理知识。在教学中注意学习</tspan><tspan x="2139" dy="15.5">方法的指导，提倡自主、合作、探究式学习，</tspan><tspan x="2139" dy="15.5">使地理学习变为一种学生感兴趣的、乐于参与</tspan><tspan x="2139" dy="15.5">探究并获取知识的活动。</tspan></text></g>
<g id="f222"><rect x="2133" y="1029" width="254" height="89.5" rx="4"/><text x="2139" y="1047"><tspan x="2139">在教学过程中，指导学生阅读课文，充分利用</tspan><tspan x="2139" dy="15.5">地图让学生掌握地理知识，使知识要点更易于</tspan><tspan x="2139" dy="15.5">掌握，更利于识记。并经常督促检查，进行复</tspan><tspan x="2139" dy="15.5">习、测验、考试、组织课外活动等，让学生养</tspan><tspan x="2139" dy="15.5">成很好的学习习惯。</tspan></text></g>
<g id="l23"><rect x="1977" y="1175.75" width="194" height="27.5" rx="4"/><text x="1983" y="1193.75">三、抓住学生心理，激发学习兴趣</text></g>
<g id="f23"><rect x="2193" y="1144.75" width="254" height="89.5" rx="4"/><text x="2199" y="1162.75"><tspan x="2199">在教学过程中，充分利用已有的知识，引导学</tspan><tspan x="2199" dy="15.5">生思考课文中提出的问题和现象，并补充一些</tspan><tspan x="2199" dy="15.5">学生较熟悉和感兴趣的地理问题和事象，以展</tspan><tspan x="2199" dy="15.5">示地理课内容的丰富多彩，激发学生学习的积</tspan><tspan x="2199" dy="15.5">极性。</tspan></text></g>
<g id="l24"><rect x="1977" y="1291.25" width="96" height="27.5" rx="4"/><text x="1983" y="1309.25">四、存在的问题</text></g>
<g id="f24"><rect x="2097" y="1260.25" width="253" height="89.5" rx="4"/><text x="2103" y="1278.25"><tspan x="2103">当然，我在教学中，也存在许多不足之处。如</tspan><tspan x="2103" dy="15.5">：有部分学生学习兴趣不高，课堂效率较差，</tspan><tspan x="2103" dy="15.5">学习成绩难以提高，这些状况都需要在今后的</tspan><tspan x="2103" dy="15.5">很长时间里去不断完善和提高，相信只要有不</tspan><tspan x="2103" dy="15.5">懈努力，今后的教学会取得更好的成绩。</tspan></text></g>

<g id="p4a"><rect x="1702" y="1616" width="253" height="306.5" rx="4"/><text x="1708" y="1634"><tspan x="1708">本学期担任了七年级的地理课，教学的主要工</tspan><tspan x="1708" dy="15.5">作目标是培养学生读图、识图能力。"地图是</tspan><tspan x="1708" dy="15.5">地理学的第二种语言，也是学生学习地理的拐</tspan><tspan x="1708" dy="15.5">杖"。地理教学中培养学生读图、用图的能力</tspan><tspan x="1708" dy="15.5">，训练学生空间想象能力是十分重要的。总结</tspan><tspan x="1708" dy="15.5">过去的教学发现学生在实际学习中对读图、用</tspan><tspan x="1708" dy="15.5">图感到困惑，缺少读图意识，没有用图习惯。</tspan><tspan x="1708" dy="15.5">粤版教材在每一章节的安排上都实现了图文并</tspan><tspan x="1708" dy="15.5">茂、生动活泼这一特点，图像内容的大量增加</tspan><tspan x="1708" dy="15.5">，使之成为新教材中很重要的组成部分，这既</tspan><tspan x="1708" dy="15.5">符合地理学科特点，又符合学生们爱看图像的</tspan><tspan x="1708" dy="15.5">心理特点，同时也对学生的读图能力提出了挑</tspan><tspan x="1708" dy="15.5">战。如何才能在有限的课堂教学时间内使学生</tspan><tspan x="1708" dy="15.5">在掌握地理知识的同时又养成良好的读图能力</tspan><tspan x="1708" dy="15.5">呢?首先是看图、指图。要求学生将课本内容</tspan><tspan x="1708" dy="15.5">与图紧密结合起来，凡是课文中出现的地名或</tspan><tspan x="1708" dy="15.5">地理规律，基本上都应在地图上找到其位置，</tspan><tspan x="1708" dy="15.5">或了解分布特点，指图要迅速准确。不同类型</tspan><tspan x="1708" dy="15.5">的图，看和指的要求也不同：</tspan></text></g>
<g id="l41"><rect x="1977" y="1491.5" width="254" height="43" rx="4"/><text x="1983" y="1509.5"><tspan x="1983">1、对于地图，要求学生从地图的三要素入手</tspan><tspan x="1983" dy="15.5">。</tspan></text></g>
<g id="f411"><rect x="2254" y="1376" width="254" height="74" rx="4"/><text x="2260" y="1394"><tspan x="2260">(1)识图例和注记。地图是一种图形语言，它</tspan><tspan x="2260" dy="15.5">是由各种图例、文字、数字、颜色等符号系统</tspan><tspan x="2260" dy="15.5">组成，识图例是为了明确图中符号所表示的地</tspan><tspan x="2260" dy="15.5">理事物和现象"是什么"?</tspan></text></g>
<g id="f412"><rect x="2254" y="1477" width="254" height="58.5" rx="4"/><text x="2260" y="1495"><tspan x="2260">(2)确定方向。即某种地理事物的空间位置以</tspan><tspan x="2260" dy="15.5">及与其他地理事物的相对位置。定方向主要应</tspan><tspan x="2260" dy="15.5">解决地理事物"在哪里"?</tspan></text></g>
<g id="f413"><rect x="2254" y="1561" width="254" height="105" rx="4"/><text x="2260" y="1579"><tspan x="2260">(3)建立比例概念。以所用比例尺的大小，来</tspan><tspan x="2260" dy="15.5">衡量该图反映的空间大小，事物的详略程度。</tspan><tspan x="2260" dy="15.5">通过对地图的看和指，帮助学生理解课文内容</tspan><tspan x="2260" dy="15.5">，建立丰富的地图表象，从而引起积极的思维</tspan><tspan x="2260" dy="15.5">活动，产生广泛的地理想象，加强学生有意义</tspan><tspan x="2260" dy="15.5">的理解记忆。</tspan></text></g>
<g id="f42"><rect x="1977" y="1692" width="254" height="198" rx="4"/><text x="1983" y="1710"><tspan x="1983">2、对于统计图，要求学生按照"看图名--看坐</tspan><tspan x="1983" dy="15.5">标--看数据--分析数据--用文字揭示联系或规</tspan><tspan x="1983" dy="15.5">律"的步骤来看图。引导学生观察图中的线段</tspan><tspan x="1983" dy="15.5">、曲线、降水多少等，培养学生善于从统计图</tspan><tspan x="1983" dy="15.5">中寻找关键的数据，从数据的变化中发现规律</tspan><tspan x="1983" dy="15.5">，从而解释地理现象，分析地理问题。如讲到</tspan><tspan x="1983" dy="15.5">热带气候类型，看"热带四地的气温、降水资</tspan><tspan x="1983" dy="15.5">料图"，明确气温曲线、降水量多少的特点是</tspan><tspan x="1983" dy="15.5">什么?学生看图得出：气温曲线变化不大，四</tspan><tspan x="1983" dy="15.5">地都是终年高温;四地降水量的多少不同。同</tspan><tspan x="1983" dy="15.5">时引导学生分析四种热带气候的特点及分布规</tspan><tspan x="1983" dy="15.5">律。</tspan></text></g>
<g id="f43"><rect x="1977" y="1918" width="254" height="213.5" rx="4"/><text x="1983" y="1936"><tspan x="1983">3、对于景观图，引导学生从种类、数量、形</tspan><tspan x="1983" dy="15.5">态、色彩及时间变化等方面看和指。如安第斯</tspan><tspan x="1983" dy="15.5">山脉南段东、西两侧景观图，由于南美洲安第</tspan><tspan x="1983" dy="15.5">斯山脉的南段"拦截"了来自太平洋的大量水汽</tspan><tspan x="1983" dy="15.5">，使西侧沿海平原的湿润景观与东侧的荒漠景</tspan><tspan x="1983" dy="15.5">观形成了鲜明的对照。第二是读图、填图。在</tspan><tspan x="1983" dy="15.5">图上明确了地理事物的名称后，就要对重要的</tspan><tspan x="1983" dy="15.5">地理事物名称熟读、多写增强记忆力。如学习</tspan><tspan x="1983" dy="15.5">七大洲、四大洋这一节，将七大洲、四大洋的</tspan><tspan x="1983" dy="15.5">名称反复读，然后在填充图册上填写，达到巩</tspan><tspan x="1983" dy="15.5">固记忆的目的，以避免张冠李戴现象的产生，</tspan><tspan x="1983" dy="15.5">从而收到良好的学习效果。第三是板图、绘图</tspan><tspan x="1983" dy="15.5">。</tspan></text></g>
<g id="p4b"><rect x="1701" y="2157.5" width="253" height="322" rx="4"/><text x="1707" y="2175.5"><tspan x="1707">在教学中，我注重地图和教学内容的结合，结</tspan><tspan x="1707" dy="15.5">合图提问，引导学生通过地图分析地图信息，</tspan><tspan x="1707" dy="15.5">通过地图信息让学生发现问题，养成读图思考</tspan><tspan x="1707" dy="15.5">的习惯，通过师生双边共同活动，既能活跃课</tspan><tspan x="1707" dy="15.5">堂气氛，吸引学生注意力，又能培养学生运用</tspan><tspan x="1707" dy="15.5">地图去学习掌握地理知识和技能的习惯，提高</tspan><tspan x="1707" dy="15.5">读图、分析图的能力;更能使学生直观地记住</tspan><tspan x="1707" dy="15.5">各种地形名称及具体位置。比如在讲"中国的</tspan><tspan x="1707" dy="15.5">地形"这节时，我先把中国的轮廓图画在黑板</tspan><tspan x="1707" dy="15.5">上，然后让学生拿出一张纸印一幅中国的轮廓</tspan><tspan x="1707" dy="15.5">图，使学生形成空间观念，接着我在黑板上示</tspan><tspan x="1707" dy="15.5">范填出根据走向划分的几种类型的山脉名称，</tspan><tspan x="1707" dy="15.5">学生在纸上模仿并独立填图，最后相互比较，</tspan><tspan x="1707" dy="15.5">让学生选出最佳"作品"，这样更能加深学生的</tspan><tspan x="1707" dy="15.5">印象，从而达到熟练程度。总之，地理教学过</tspan><tspan x="1707" dy="15.5">程中读图能力的培养非常重要，通过读图，可</tspan><tspan x="1707" dy="15.5">培养学生分析问题、解决问题的能力，可在图</tspan><tspan x="1707" dy="15.5">中感悟地理事物，而读图能力的培养并非一朝</tspan><tspan x="1707" dy="15.5">一日之事，需要长期的训练才能收到较好的效</tspan><tspan x="1707" dy="15.5">果。存在的问题及不足：</tspan></text></g>
<g id="f4b1"><rect x="1977" y="2263" width="254" height="43" rx="4"/><text x="1983" y="2281"><tspan x="1983">1、对学生的关注度还不够全面，对学情的把</tspan><tspan x="1983" dy="15.5">握还不够准确。</tspan></text></g>
<g id="f4b2"><rect x="1977" y="2332" width="254" height="43" rx="4"/><text x="1983" y="2350"><tspan x="1983">2、学生对知识的灵活运用能力还是不够，试</tspan><tspan x="1983" dy="15.5">题训练不足。</tspan></text></g>
<g id="l4c"><rect x="1701" y="2575.75" width="84" height="27.5" rx="4"/><text x="1707" y="2593.75">改进的措施：</text></g>
<g id="m1"><rect x="1808" y="2507" width="253" height="43" rx="4"/><text x="1814" y="2525"><tspan x="1814">1、加强对学生的管理，采取多种教学方式培</tspan><tspan x="1814" dy="15.5">养学生学习地理的兴趣。</tspan></text></g>
<g id="m2"><rect x="1808" y="2576" width="188" height="27.5" rx="4"/><text x="1814" y="2594">2、加强基础知识的训练及运用。</text></g>
<g id="m3"><rect x="1808" y="2630" width="253" height="43" rx="4"/><text x="1814" y="2648"><tspan x="1814">3、通过读图训练培养学生从图中获取信息的</tspan><tspan x="1814" dy="15.5">能力、分析问题和解决.</tspan></text></g>

<g id="a1"><rect x="1769" y="2698" width="166" height="27.5" rx="4"/><text x="1776" y="2716">★ 地理教学反思总结样板5篇</text></g>
<g id="a2"><rect x="1769" y="2752" width="166" height="27.5" rx="4"/><text x="1776" y="2770">★ 地理教学反思心得总结5篇</text></g>
<g id="a3"><rect x="1769" y="2806" width="190" height="27.5" rx="4"/><text x="1776" y="2824">★ 地理教师教学个人反思总结5篇</text></g>
<g id="a4"><rect x="1769" y="2859" width="190" height="27.5" rx="4"/><text x="1776" y="2877">★ 地理教学心得反思总结模板5篇</text></g>
<g id="a5"><rect x="1769" y="2913" width="166" height="27.5" rx="4"/><text x="1776" y="2931">★ 地理教学心得总结样板5篇</text></g>
<g id="a6"><rect x="1769" y="2966" width="214" height="27.5" rx="4"/><text x="1776" y="2984">★ 高二地理下学期教学总结及反思5篇</text></g>
<g id="a7"><rect x="1769" y="3020" width="190" height="27.5" rx="4"/><text x="1776" y="3038">★ 地理教师个人教学工作总结5篇</text></g>
<g id="a8"><rect x="1769" y="3074" width="190" height="27.5" rx="4"/><text x="1776" y="3092">★ 地理任课老师教学工作总结5篇</text></g>
<g id="a9"><rect x="1769" y="3127" width="231" height="27.5" rx="4"/><text x="1776" y="3145">★ 关于初一地理期末教学工作总结及反思</text></g>
<g id="a10"><rect x="1769" y="3181" width="190" height="27.5" rx="4"/><text x="1776" y="3199">★ 地理老师教学心得反思总结5篇</text></g>
</g>
</svg>
